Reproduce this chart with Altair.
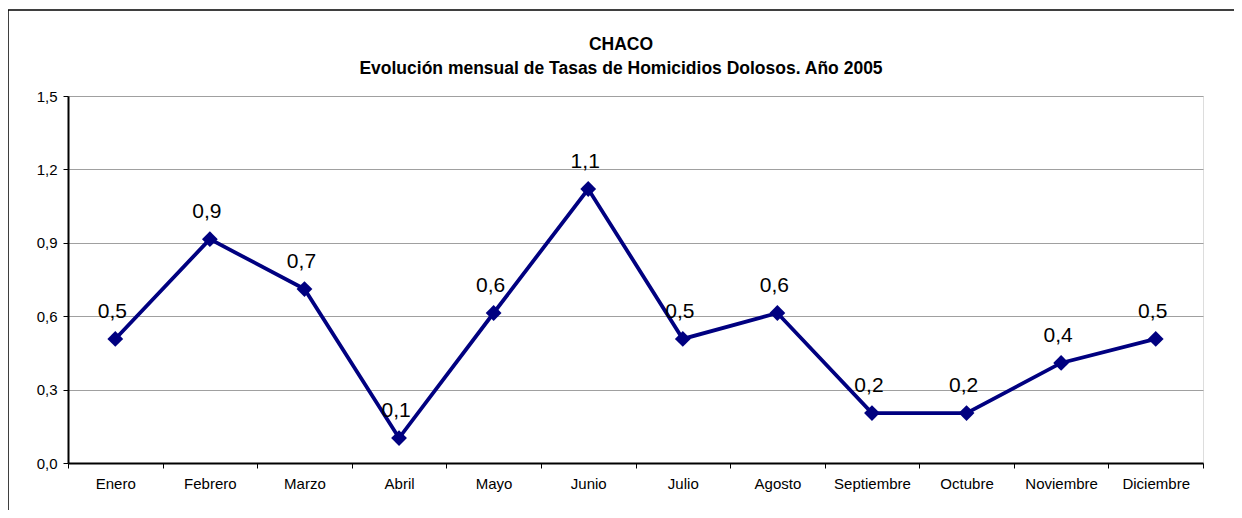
import altair as alt
import pandas as pd

months = ["Enero", "Febrero", "Marzo", "Abril", "Mayo", "Junio", "Julio",
          "Agosto", "Septiembre", "Octubre", "Noviembre", "Diciembre"]
rates = [0.507, 0.915, 0.711, 0.102, 0.613, 1.12, 0.507, 0.613, 0.204, 0.204, 0.409, 0.507]
title_lines = ["CHACO", "Evolución mensual de Tasas de Homicidios Dolosos. Año 2005"]

df = pd.DataFrame({
    "mes": months,
    "tasa": rates,
    "etiqueta": [f"{v:.1f}".replace(".", ",") for v in rates],
})
tdf = pd.DataFrame({"t": title_lines, "i": [0, 1]})

FONT = "Liberation Sans"
W, H = 1135, 367

x = alt.X("mes:N", sort=months, title=None,
          scale=alt.Scale(type="band", paddingInner=0, paddingOuter=0),
          axis=alt.Axis(labelAngle=0, tickBand="extent", grid=False, domainColor="black",
                        tickColor="black", tickSize=5, labelPadding=8, labelFontSize=15,
                        labelFont=FONT, labelColor="black", domainWidth=2))
y = alt.Y("tasa:Q", title=None,
          scale=alt.Scale(domain=[0, 1.5], nice=False),
          axis=alt.Axis(values=[0, 0.3, 0.6, 0.9, 1.2, 1.5],
                        labelExpr="replace(format(datum.value, '.1f'), '.', ',')",
                        grid=True, gridColor="#a0a0a0", gridWidth=1.2,
                        domainColor="black", domainWidth=2, tickColor="black", tickSize=5,
                        labelPadding=6, labelFontSize=15, labelFont=FONT, labelColor="black"))

base = alt.Chart(df)

frame = base.mark_rect(fill=None, stroke="black", strokeWidth=1.5, clip=False).encode(
    x=alt.value(-60), x2=alt.value(1300), y=alt.value(-86), y2=alt.value(500)
).transform_filter(alt.datum.mes == "Enero")


def title_line(i, ypos):
    return alt.Chart(tdf).transform_filter(alt.datum.i == i).mark_text(
        font=FONT, fontSize=17.5, fontWeight="bold", color="black",
        baseline="middle", align="center").encode(
        x=alt.value(553), y=alt.value(ypos), text="t:N")


line = base.mark_line(color="#000080", strokeWidth=3.8).encode(x=x, y=y)
pts = base.mark_point(shape="diamond", filled=True, color="#000080", size=250, opacity=1).encode(x=x, y=y)
labels = base.mark_text(font=FONT, fontSize=21, color="black", dy=-27, dx=-3).encode(
    x=x, y=y, text="etiqueta:N")

chart = alt.layer(frame, title_line(0, -51), title_line(1, -27), line, pts, labels).properties(
    width=W, height=H,
    autosize=alt.AutoSizeParams(type="none"),
    padding={"left": 60, "top": 88, "right": 31, "bottom": 47},
).configure_view(stroke="black", strokeWidth=2).configure(background="white")

chart.save("out.html", embed_options={"renderer": "svg", "actions": False})
